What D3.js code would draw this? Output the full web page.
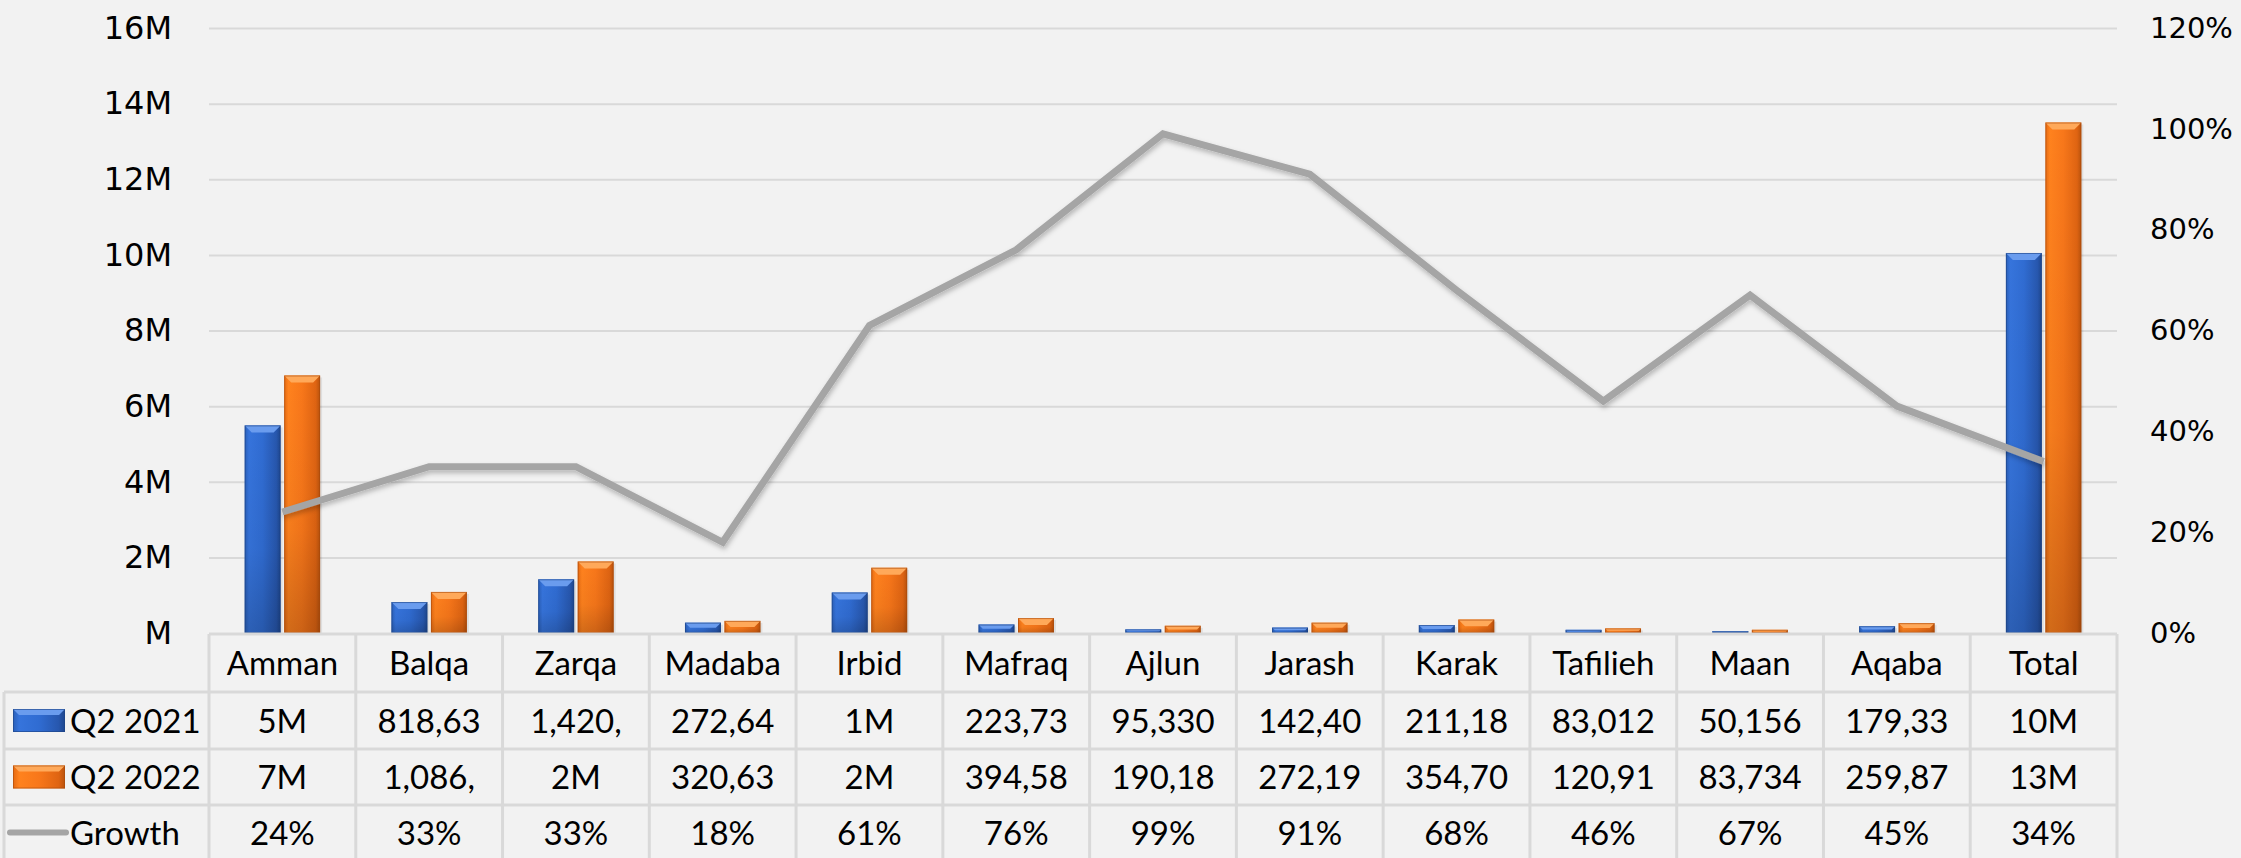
<!DOCTYPE html>
<html>
<head>
<meta charset="utf-8">
<script src="https://cdn.jsdelivr.net/npm/d3@7"></script>
<style>
  body { margin: 0; background: #F2F2F2; }
  svg { display: block; }
</style>
</head>
<body>
<div id="chart"></div>
<script>
// chart data
var categories = ["Amman", "Balqa", "Zarqa", "Madaba", "Irbid", "Mafraq", "Ajlun", "Jarash", "Karak", "Tafilieh", "Maan", "Aqaba", "Total"];
var q2021 = [5490000, 818630, 1420000, 272640, 1070000, 223730, 95330, 142400, 211180, 83012, 50156, 179330, 10050000];
var q2022 = [6810000, 1086000, 1890000, 320630, 1725000, 394580, 190180, 272190, 354700, 120910, 83734, 259870, 13500000];
var growth = [0.24, 0.33, 0.33, 0.18, 0.61, 0.76, 0.99, 0.91, 0.68, 0.46, 0.67, 0.45, 0.34];

// table texts as shown (cells clip long numbers)
var q2021Labels = ["5M", "818,63", "1,420,", "272,64", "1M", "223,73", "95,330", "142,40", "211,18", "83,012", "50,156", "179,33", "10M"];
var q2022Labels = ["7M", "1,086,", "2M", "320,63", "2M", "394,58", "190,18", "272,19", "354,70", "120,91", "83,734", "259,87", "13M"];
var seriesNames = ["Q2 2021", "Q2 2022", "Growth"];

// tick values
var leftTicks = [0, 2e6, 4e6, 6e6, 8e6, 10e6, 12e6, 14e6, 16e6];
var rightTicks = [0, 0.2, 0.4, 0.6, 0.8, 1.0, 1.2];

var svgWidth = 2241;
var svgHeight = 858;

var plot = { left: 209, right: 2117, top: 28, bottom: 634 };
var rows = [634, 692, 749, 805, 860];
var gridColor = "#D9D9D9";

var svg = d3.select("#chart")
  .append("svg")
  .attr("width", svgWidth)
  .attr("height", svgHeight)
  .style("background", "#F2F2F2");

var defs = svg.append("defs");

// bar gradients
function barGradient(id, stops) {
  var g = defs.append("linearGradient")
    .attr("id", id)
    .attr("x1", 0).attr("x2", 1).attr("y1", 0).attr("y2", 0);
  stops.forEach(function(s) {
    g.append("stop").attr("offset", s[0]).attr("stop-color", s[1]);
  });
}
barGradient("blueBody", [[0, "#2A5FB8"], [0.12, "#3674DC"], [0.5, "#306CD2"], [0.88, "#2757AE"], [1, "#1E468C"]]);
barGradient("orangeBody", [[0, "#E56A12"], [0.12, "#FF821E"], [0.5, "#F8771A"], [0.88, "#DF6412"], [1, "#B9520C"]]);

var shade = defs.append("linearGradient")
  .attr("id", "shade")
  .attr("x1", 0).attr("x2", 0).attr("y1", 0).attr("y2", 1);
shade.append("stop").attr("offset", 0).attr("stop-color", "#000").attr("stop-opacity", 0);
shade.append("stop").attr("offset", 0.6).attr("stop-color", "#000").attr("stop-opacity", 0.04);
shade.append("stop").attr("offset", 1).attr("stop-color", "#000").attr("stop-opacity", 0.18);

// soft shadow under the growth line
var lineShadow = defs.append("filter")
  .attr("id", "lineShadow")
  .attr("x", "-5%").attr("y", "-5%").attr("width", "110%").attr("height", "115%");
lineShadow.append("feDropShadow")
  .attr("dx", 1).attr("dy", 3)
  .attr("stdDeviation", 2.5)
  .attr("flood-color", "#000")
  .attr("flood-opacity", 0.25);

// scales
var x = d3.scaleBand()
  .domain(categories)
  .range([plot.left, plot.right])
  .padding(0);

var band = x.bandwidth();
var xSub = d3.scaleBand()
  .domain(["q2021", "q2022"])
  .range([band * 0.243, band * 0.757])
  .paddingInner(0.09);

var yLeft = d3.scaleLinear()
  .domain([0, 16e6])
  .range([plot.bottom - 1, plot.top]);

var yRight = d3.scaleLinear()
  .domain([0, 1.2])
  .range([plot.bottom - 1, plot.top]);

// gridlines
svg.append("g")
  .attr("transform", `translate(${plot.left}, 0)`)
  .call(d3.axisLeft(yLeft).tickValues(leftTicks.slice(1)).tickSize(-(plot.right - plot.left)).tickFormat(""))
  .call(g => g.select(".domain").remove())
  .call(g => g.selectAll("line").attr("stroke", gridColor).attr("stroke-width", 2));

// left axis labels
svg.append("g")
  .attr("transform", "translate(172, 0)")
  .call(d3.axisLeft(yLeft).tickValues(leftTicks).tickSize(0).tickPadding(0)
    .tickFormat(d => d === 0 ? "M" : (d / 1e6) + "M"))
  .call(g => g.select(".domain").remove())
  .call(g => g.selectAll("text")
    .attr("font-family", "'DejaVu Sans', sans-serif")
    .attr("font-size", 32)
    .attr("fill", "#000"));

// right axis labels
svg.append("g")
  .attr("transform", "translate(2150, 0)")
  .call(d3.axisRight(yRight).tickValues(rightTicks).tickSize(0).tickPadding(0)
    .tickFormat(d3.format(".0%")))
  .call(g => g.select(".domain").remove())
  .call(g => g.selectAll("text")
    .attr("font-family", "'DejaVu Sans', sans-serif")
    .attr("font-size", 29)
    .attr("fill", "#000"));

// bars with a bevelled top
function drawBars(values, key, bodyId, topColor, edgeColor) {
  var groups = svg.append("g")
    .selectAll("g")
    .data(values)
    .enter()
    .append("g");

  groups.each(function(v, i) {
    var g = d3.select(this);
    var x0 = x(categories[i]) + xSub(key);
    var w = xSub.bandwidth();
    var y0 = yLeft(v);
    var h = yLeft(0) - y0;
    var b = Math.min(7, h / 2);

    // soft shadow
    g.append("rect")
      .attr("x", x0 + 2).attr("y", y0 + 2)
      .attr("width", w).attr("height", h)
      .attr("fill", "#000").attr("fill-opacity", 0.08);
    g.append("rect")
      .attr("x", x0).attr("y", y0)
      .attr("width", w).attr("height", h)
      .attr("fill", `url(#${bodyId})`);
    g.append("rect")
      .attr("x", x0).attr("y", y0)
      .attr("width", w).attr("height", h)
      .attr("fill", "url(#shade)");
    g.append("polygon")
      .attr("points", [[x0, y0], [x0 + w, y0], [x0 + w - b, y0 + b], [x0 + b, y0 + b]].join(" "))
      .attr("fill", topColor);
    g.append("rect")
      .attr("x", x0 + 0.5).attr("y", y0 + 0.5)
      .attr("width", Math.max(w - 1, 0)).attr("height", Math.max(h - 1, 0))
      .attr("fill", "none")
      .attr("stroke", edgeColor)
      .attr("stroke-opacity", 0.6)
      .attr("stroke-width", 1);
  });
}

drawBars(q2021, "q2021", "blueBody", "#6A9CEE", "#1D4283");
drawBars(q2022, "q2022", "orangeBody", "#FFA95A", "#A9490B");

// growth line
var line = d3.line()
  .x((d, i) => x(categories[i]) + band / 2)
  .y(d => yRight(d));

svg.append("path")
  .datum(growth)
  .attr("d", line)
  .attr("fill", "none")
  .attr("stroke", "#A5A5A5")
  .attr("stroke-width", 7)
  .attr("filter", "url(#lineShadow)");

// data table
var table = svg.append("g");

table.append("line")
  .attr("x1", plot.left).attr("x2", plot.right)
  .attr("y1", rows[0]).attr("y2", rows[0]);
rows.slice(1, 4).forEach(function(r) {
  table.append("line")
    .attr("x1", 4).attr("x2", plot.right)
    .attr("y1", r).attr("y2", r);
});
table.append("line")
  .attr("x1", 4).attr("x2", 4)
  .attr("y1", rows[1]).attr("y2", svgHeight);
categories.forEach(function(c) {
  table.append("line")
    .attr("x1", x(c)).attr("x2", x(c))
    .attr("y1", rows[0]).attr("y2", svgHeight);
});
table.append("line")
  .attr("x1", plot.right).attr("x2", plot.right)
  .attr("y1", rows[0]).attr("y2", svgHeight);
table.selectAll("line")
  .attr("stroke", gridColor)
  .attr("stroke-width", 3);

var cellFont = "Lato, 'Open Sans', sans-serif";
var tableRows = [categories, q2021Labels, q2022Labels, growth.map(d3.format(".0%"))];

tableRows.forEach(function(labels, r) {
  var cy = (rows[r] + rows[r + 1]) / 2;
  table.append("g")
    .selectAll("text")
    .data(labels)
    .enter()
    .append("text")
    .attr("x", (d, i) => x(categories[i]) + band / 2)
    .attr("y", cy + 12)
    .attr("text-anchor", "middle")
    .attr("font-family", cellFont)
    .attr("font-size", 33)
    .attr("fill", "#000")
    .text(d => d);
});

// legend keys in the row headers
var keyRows = [1, 2, 3];
keyRows.forEach(function(r, i) {
  var cy = (rows[r] + rows[r + 1]) / 2;
  if (i < 2) {
    var x0 = 13, w = 52, h = 23, y0 = cy - h / 2;
    var body = i === 0 ? "blueBody" : "orangeBody";
    var topC = i === 0 ? "#6A9CEE" : "#FFA95A";
    var edge = i === 0 ? "#1D4283" : "#A9490B";
    table.append("rect")
      .attr("x", x0).attr("y", y0).attr("width", w).attr("height", h)
      .attr("fill", `url(#${body})`);
    table.append("polygon")
      .attr("points", [[x0, y0], [x0 + w, y0], [x0 + w - 6, y0 + 6], [x0 + 6, y0 + 6]].join(" "))
      .attr("fill", topC);
    table.append("rect")
      .attr("x", x0 + 0.5).attr("y", y0 + 0.5).attr("width", w - 1).attr("height", h - 1)
      .attr("fill", "none").attr("stroke", edge).attr("stroke-opacity", 0.6);
  } else {
    table.append("line")
      .attr("x1", 10).attr("x2", 66)
      .attr("y1", cy).attr("y2", cy)
      .attr("stroke", "#A5A5A5")
      .attr("stroke-width", 6)
      .attr("stroke-linecap", "round");
  }
  table.append("text")
    .attr("x", 70)
    .attr("y", cy + 12)
    .attr("font-family", cellFont)
    .attr("font-size", 33)
    .attr("fill", "#000")
    .text(seriesNames[i]);
});
</script>
</body>
</html>
